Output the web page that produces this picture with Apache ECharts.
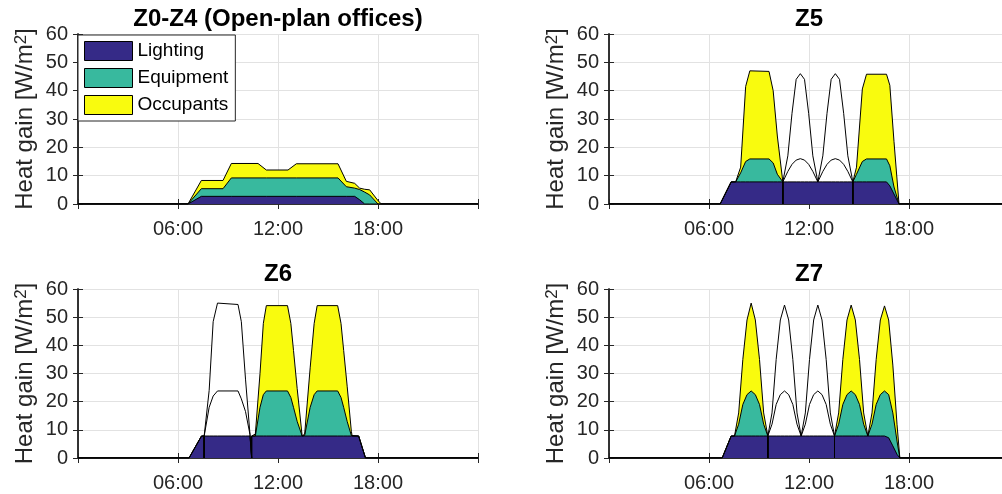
<!DOCTYPE html>
<html>
<head>
<meta charset="utf-8">
<script src="https://cdn.jsdelivr.net/npm/echarts@6/dist/echarts.min.js"></script>
<style>
  html, body { margin: 0; padding: 0; background: #fff; overflow: hidden; }
  /* the right-hand plots run past the 1002px window, as in the source figure */
  #chart { width: 1012px; height: 494px; }
</style>
</head>
<body>
<div id="chart"></div>
<script>
// tick labels / names
const timeLabels = ['', '06:00', '12:00', '18:00', '']
const panelTitles = ['Z0-Z4 (Open-plan offices)', 'Z5', 'Z6', 'Z7']
const gainNames = ['Lighting', 'Equipment', 'Occupants']

// Z0-Z4 (hours, W/m2 per component)
const hoursZ0 = [0, 6.6, 7.4, 8.7, 9.2, 10.8, 11.3, 12.6, 13.1, 15.6, 16.1, 16.6, 16.9, 17.2, 17.5, 18.0, 18.2, 24]
const lightingZ0 = [0, 0, 2.7, 2.7, 2.7, 2.7, 2.7, 2.7, 2.7, 2.7, 2.7, 2.7, 1.5, 0, 0, 0, 0, 0]
const equipmentZ0 = [0, 0, 2.7, 2.7, 6.5, 6.5, 6.5, 6.5, 6.5, 6.5, 3.4, 2.9, 3.6, 4.2, 3.2, 0, 0, 0]
const occupantsZ0 = [0, 0, 2.9, 2.9, 5.1, 5.1, 2.8, 2.8, 5.0, 5.0, 1.9, 1.7, 0.5, 1.0, 1.8, 1.2, 0, 0]

// Z5
const hoursZ5 = [0, 6.67, 7.33, 7.6, 7.9, 8.2, 8.45, 9.6, 9.85, 10.1, 10.43, 10.43, 10.43, 10.73, 10.98, 11.23, 11.48, 11.73, 11.98, 12.23, 12.53, 12.83, 13.08, 13.33, 13.58, 13.83, 14.08, 14.33, 14.63, 14.63, 14.63, 14.85, 15.2, 15.45, 16.65, 16.85, 17.1, 17.4, 24]
const lightingZ5 = [0, 0, 7.8, 7.8, 7.8, 7.8, 7.8, 7.8, 7.8, 7.8, 7.8, 0, 7.8, 7.8, 7.8, 7.8, 7.8, 7.8, 7.8, 7.8, 7.8, 7.8, 7.8, 7.8, 7.8, 7.8, 7.8, 7.8, 7.8, 0, 7.8, 7.8, 7.8, 7.8, 7.8, 6.4, 3.5, 0, 0]
const equipmentZ5 = [0, 0, 0, 0, 3.2, 7.2, 8.1, 8.1, 6.7, 2.7, 0, 0, 0, 3.7, 6.2, 7.7, 8.2, 7.7, 6.2, 3.7, 0, 3.7, 6.2, 7.7, 8.2, 7.7, 6.2, 3.7, 0, 0, 0, 2.7, 7.2, 8.1, 8.1, 7.1, 2.5, 0, 0]
const occupantsZ5 = [0, 0, 0, 0, 2, 26.5, 31.1, 30.9, 25.5, 13.5, 0, 0, 0, 5.5, 18, 28.5, 30, 28.5, 18, 5.5, 0, 5.5, 18, 28.5, 30, 28.5, 18, 5.5, 0, 0, 0, 2.5, 25.6, 29.9, 29.9, 28.4, 16, 0, 0]
const unfilledZ5 = [10.43, 14.63]

// Z6
const hoursZ6 = [0, 6.66, 7.41, 7.57, 7.57, 7.57, 7.87, 8.11, 8.37, 9.6, 9.8, 10.05, 10.32, 10.42, 10.42, 10.42, 10.64, 10.92, 11.12, 11.3, 12.57, 12.77, 12.93, 13.15, 13.45, 13.6, 13.93, 14.17, 14.35, 15.58, 15.78, 15.94, 16.15, 16.4, 16.45, 16.84, 17.25, 24]
const lightingZ6 = [0, 0, 7.8, 7.8, 0, 7.8, 7.8, 7.8, 7.8, 7.8, 7.8, 7.8, 7.8, 7.8, 0, 7.8, 7.8, 7.8, 7.8, 7.8, 7.8, 7.8, 7.8, 7.8, 7.8, 7.8, 7.8, 7.8, 7.8, 7.8, 7.8, 7.8, 7.8, 7.8, 7.8, 7.8, 0, 0]
const equipmentZ6 = [0, 0, 0, 0, 0, 0, 10.2, 14.2, 16, 16, 13.2, 8.7, 0.5, 0, 0, 0, 0, 10.2, 14.7, 16, 16, 13.7, 10.2, 5.2, 0, 0.2, 10.2, 14.7, 16, 16, 13.7, 10.2, 5.2, 0.2, 0, 0, 0, 0]
const occupantsZ6 = [0, 0, 0, 0, 0, 0, 6, 26.4, 31.2, 30.7, 27.4, 11.5, 0, 0, 0, 0, 0.7, 12, 25.3, 30.3, 30.3, 26.3, 20.2, 11.7, 0, 0.5, 14, 25.3, 30.3, 30.3, 26.3, 20.2, 12.5, 1.5, 0, 0, 0, 0]
const unfilledZ6 = [7.57, 10.42]

// Z7
const hoursZ7 = [0, 6.79, 7.33, 7.53, 7.78, 8.03, 8.28, 8.53, 8.78, 9.03, 9.28, 9.53, 9.53, 9.53, 9.78, 10.03, 10.28, 10.53, 10.78, 11.03, 11.28, 11.53, 11.78, 12.03, 12.28, 12.53, 12.78, 13.03, 13.28, 13.53, 13.53, 13.53, 13.78, 14.03, 14.28, 14.53, 14.78, 15.03, 15.28, 15.53, 15.78, 16.03, 16.28, 16.53, 16.78, 17.03, 17.28, 17.45, 24]
const lightingZ7 = [0, 0, 7.8, 7.8, 7.8, 7.8, 7.8, 7.8, 7.8, 7.8, 7.8, 7.8, 0, 7.8, 7.8, 7.8, 7.8, 7.8, 7.8, 7.8, 7.8, 7.8, 7.8, 7.8, 7.8, 7.8, 7.8, 7.8, 7.8, 7.8, 0, 7.8, 7.8, 7.8, 7.8, 7.8, 7.8, 7.8, 7.8, 7.8, 7.8, 7.8, 7.8, 7.8, 7.2, 4.3, 1.3, 0, 0]
const equipmentZ7 = [0, 0, 0, 0, 4.2, 11.2, 14.7, 16, 14.7, 11.2, 4.2, 0, 0, 0, 4.2, 11.2, 14.7, 16, 14.7, 11.2, 4.2, 0, 4.2, 11.2, 14.7, 16, 14.7, 11.2, 4.2, 0, 0, 0, 4.2, 11.2, 14.7, 16, 14.7, 11.2, 4.2, 0, 4.2, 11.2, 14.7, 16, 15.3, 11.7, 4.7, 0, 0]
const occupantsZ7 = [0, 0, 0, 0, 4, 16, 26.5, 31.2, 26.5, 16, 4, 0, 0, 0, 4, 16, 26.5, 30.5, 26.5, 16, 4, 0, 4, 16, 26.5, 30.5, 26.5, 16, 4, 0, 0, 0, 4, 16, 26.5, 30.5, 26.5, 16, 4, 0, 4, 16, 26.5, 30.2, 26.5, 17, 6, 0, 0]
const unfilledZ7 = [9.53, 13.53]

const fills = { Lighting: '#352a87', Equipment: '#38b99e', Occupants: '#f9fb0e' }
const axisColor = '#262626'
const gridColor = '#e2e2e2'
const fontFamily = '"Liberation Sans", Arial, Helvetica, sans-serif'

const panels = [
  { hours: hoursZ0, values: [lightingZ0, equipmentZ0, occupantsZ0], unfilled: null },
  { hours: hoursZ5, values: [lightingZ5, equipmentZ5, occupantsZ5], unfilled: unfilledZ5 },
  { hours: hoursZ6, values: [lightingZ6, equipmentZ6, occupantsZ6], unfilled: unfilledZ6 },
  { hours: hoursZ7, values: [lightingZ7, equipmentZ7, occupantsZ7], unfilled: unfilledZ7 }
]
const grids = [
  { left: 78, top: 34, width: 400, height: 170 },
  { left: 609, top: 34, width: 400, height: 170 },
  { left: 78, top: 289, width: 400, height: 169 },
  { left: 609, top: 289, width: 400, height: 169 }
]

const boxLine = { show: true, lineStyle: { color: axisColor, width: 1.5 } }
const boxTick = { show: true, inside: true, length: 5, lineStyle: { color: axisColor, width: 1 } }

const xAxis = []
const yAxis = []
const series = []
const visualMap = []
const graphic = []

panels.forEach((p, i) => {
  const g = grids[i]
  xAxis.push({
    gridIndex: i, type: 'value', position: 'bottom', min: 0, max: 24, interval: 6,
    axisLine: boxLine, axisTick: boxTick,
    axisLabel: { formatter: v => timeLabels[Math.round(v / 6)], color: axisColor, fontSize: 20, margin: 15 },
    splitLine: { show: true, lineStyle: { color: gridColor, width: 1 } }
  })
  xAxis.push({
    gridIndex: i, type: 'value', position: 'top', min: 0, max: 24, interval: 6,
    axisLine: boxLine, axisTick: boxTick, axisLabel: { show: false }, splitLine: { show: false }
  })
  yAxis.push({
    gridIndex: i, type: 'value', position: 'left', min: 0, max: 60, interval: 10,
    name: 'Heat gain [W/m{sup|2}]', nameLocation: 'middle', nameGap: 41,
    nameTextStyle: { fontSize: 24, color: axisColor, rich: { sup: { fontSize: 17, color: axisColor, verticalAlign: 'top', lineHeight: 17 } } },
    axisLine: boxLine, axisTick: boxTick,
    axisLabel: { color: axisColor, fontSize: 20, margin: 10 },
    splitLine: { show: true, lineStyle: { color: gridColor, width: 1 } }
  })
  yAxis.push({
    gridIndex: i, type: 'value', position: 'right', min: 0, max: 60, interval: 10,
    axisLine: boxLine, axisTick: boxTick, axisLabel: { show: false }, splitLine: { show: false }
  })

  // cumulative tops: lighting, lighting+equipment, lighting+equipment+occupants
  const tops = []
  p.values.forEach((vals, k) => {
    tops.push(vals.map((v, j) => v + (k > 0 ? tops[k - 1][j] : 0)))
  })

  // draw the highest layer first so lower layers sit over it
  for (let k = 2; k >= 0; k--) {
    const name = gainNames[k]
    const whitened = k > 0 && p.unfilled
    series.push({
      name,
      type: 'line',
      xAxisIndex: 2 * i,
      yAxisIndex: 2 * i,
      symbol: 'none',
      animation: false,
      data: p.hours.map((h, j) => [h, tops[k][j]]),
      lineStyle: { color: '#000', width: 1 },
      itemStyle: { color: fills[name] },
      areaStyle: whitened ? { opacity: 1, origin: 'start' } : { color: fills[name], opacity: 1, origin: 'start' }
    })
    if (whitened) {
      visualMap.push({
        type: 'piecewise', show: false, dimension: 0, seriesIndex: series.length - 1,
        pieces: [
          { gte: -1, lt: p.unfilled[0], color: fills[name] },
          { gte: p.unfilled[0], lt: p.unfilled[1], color: '#ffffff' },
          { gte: p.unfilled[1], lte: 25, color: fills[name] }
        ]
      })
    }
  }

  graphic.push({
    type: 'text', x: g.left + 200, y: g.top - 15, z: 10,
    style: { text: panelTitles[i], font: 'bold 24px ' + fontFamily, fill: '#000', textAlign: 'center', textVerticalAlign: 'middle' }
  })
})

const chart = echarts.init(document.getElementById('chart'))
chart.setOption({
  animation: false,
  textStyle: { fontFamily },
  grid: grids.map(g => Object.assign({ containLabel: false }, g)),
  xAxis,
  yAxis,
  visualMap,
  series,
  graphic,
  legend: {
    orient: 'vertical', left: 78, top: 35,
    padding: [6, 7, 6, 6], itemWidth: 48, itemHeight: 19, itemGap: 7,
    borderColor: axisColor, borderWidth: 1, backgroundColor: '#fff',
    selectedMode: false, icon: 'rect',
    textStyle: { fontSize: 19, color: '#000' },
    data: gainNames.map(n => ({ name: n, itemStyle: { color: fills[n], borderColor: '#000', borderWidth: 1 } }))
  }
})
</script>
</body>
</html>
